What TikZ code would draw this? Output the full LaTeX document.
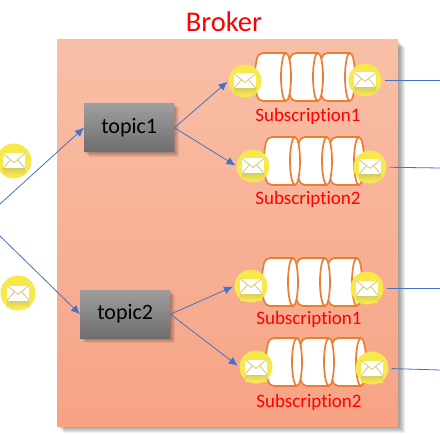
\documentclass[tikz,border=0pt]{standalone}
\usepackage{fontspec}
\setmainfont{Carlito}[Ligatures=NoCommon]
\usetikzlibrary{arrows.meta}
\definecolor{linkblue}{HTML}{4472C4}
\definecolor{cylorange}{HTML}{ED7D31}
\definecolor{msgyellow}{HTML}{F7E84C}
\definecolor{msgdark}{HTML}{D6CC62}
\definecolor{msgline}{HTML}{D8CC78}
\definecolor{brokertop}{HTML}{F8BFA7}
\definecolor{brokerbot}{HTML}{F7A384}
\tikzset{
  link/.style={draw=linkblue,line width=0.8pt},
  arrowlink/.style={link,-{Latex[length=9pt,width=8pt]}},
  topicbox/.style={minimum width=90pt,minimum height=48pt,inner sep=0pt,top color=black!38,bottom color=black!57,font=\fontsize{22}{22}\selectfont,text=black},
  sublabel/.style={text=red,font=\fontsize{19}{20}\selectfont,inner sep=0pt},
  msgdot/.style={circle,minimum size=#1,inner sep=0pt,fill=msgyellow},
  msgdot/.default=33pt
}
% soft shadow: #1 steps, #2 x0, #3 y0, #4 x1, #5 y1
\newcommand{\softshadow}[5][7]{%
  \foreach \k in {0,1,...,#1}{
    \fill[black,opacity=0.065] ({#2+\k},{#3+\k}) rectangle ({#4+\k},{#5+\k});
  }}
% one cylinder segment: left x, right x, top y, bottom y
\newcommand{\cylseg}[4]{%
  \pgfmathsetmacro{\midy}{(#3+#4)/2}
  \pgfmathsetmacro{\rady}{(#4-#3)/2}
  \draw[cylorange,line width=1.7pt,fill=white,rounded corners=5pt]
    (#2-5,#3) -- (#1+3,#3) .. controls (#1+1,#3+10) and (#1,\midy-8) .. (#1,\midy)
    .. controls (#1,\midy+8) and (#1+1,#4-10) .. (#1+3,#4) -- (#2-5,#4);
  \draw[cylorange,line width=1.7pt,fill=white] (#2-5,\midy) ellipse [x radius=5,y radius=\rady];
}
\newcommand{\cylqueue}[3]{% left x, top y, bottom y
  \cylseg{#1+64.5}{#1+100}{#2}{#3}
  \cylseg{#1+33}{#1+68}{#2}{#3}
  \cylseg{#1}{#1+36}{#2}{#3}
}
% envelope glyph and lower shade, centred on a named circle
\newcommand{\envelope}[1]{% node name
  \begin{scope}[shift={(#1.center)}]
    \fill[top color=msgdark,bottom color=msgyellow] (-11,7) rectangle (11,14);
    \fill[white] (-11,-7.5) rectangle (11,7.5);
    \draw[msgline,line width=0.9pt] (-11,-7.5) -- (0,1.5) -- (11,-7.5);
    \draw[msgline,line width=0.9pt] (-11,7.5) -- (-3.5,-1.5) (11,7.5) -- (3.5,-1.5);
  \end{scope}
}
\begin{document}
\begin{tikzpicture}[x=1pt,y=-1pt]
\useasboundingbox (0,0) rectangle (440,436);
\fill[white] (0,0) rectangle (440,436);
% broker
\softshadow{57}{40}{398}{426}
\fill[top color=brokertop,bottom color=brokerbot] (57,40) rectangle (398,426);
\node[text=red,font=\fontsize{28.5}{29}\selectfont,inner sep=0pt] (broker) at (224,22) {Broker};
% topics
\softshadow[5]{84}{103}{174}{152}
\softshadow[5]{80}{290}{170}{338}
\node[topicbox,anchor=north west] (topic1) at (84,103.5) {topic1};
\node[topicbox,anchor=north west] (topic2) at (80,290) {topic2};
% queues
\cylqueue{255}{53}{101}
\cylqueue{264}{137}{185}
\cylqueue{262}{258}{306}
\cylqueue{266}{338}{386}
\node[sublabel] (s1) at (308,116) {Subscription1};
\node[sublabel] (s2) at (308,199) {Subscription2};
\node[sublabel] (s3) at (309,319) {Subscription1};
\node[sublabel] (s4) at (309,402) {Subscription2};
% messages
\node[msgdot=33pt] (a1) at (245,81) {};
\node[msgdot=33pt] (b1) at (365,80) {};
\node[msgdot=33pt] (a2) at (253,166) {};
\node[msgdot=33pt] (b2) at (370,167) {};
\node[msgdot=33pt] (a3) at (251,286) {};
\node[msgdot=33pt] (b3) at (367,288) {};
\node[msgdot=33pt] (a4) at (256,367) {};
\node[msgdot=33pt] (b4) at (372,368) {};
\node[msgdot=35pt] (m1) at (14,161) {};
\node[msgdot=35pt] (m2) at (18,293) {};
\foreach \n in {a1,b1,a2,b2,a3,b3,a4,b4,m1,m2}{\envelope{\n}}
% free ends
\coordinate (in1) at (0,204);
\coordinate (in2) at (0,236);
\coordinate (o1) at (440,80);
\coordinate (o2) at (440,168);
\coordinate (o3) at (440,288);
\coordinate (o4) at (440,370);
% connectors
\draw[arrowlink] (in1) -- (topic1.west);
\draw[arrowlink] (in2) -- (topic2.west);
\draw[arrowlink,shorten >=1pt] (topic1.east) -- (a1.west);
\draw[arrowlink,shorten >=1pt] (topic1.east) -- (a2.west);
\draw[arrowlink,shorten >=1.5pt] (topic2.east) -- (a3.west);
\draw[arrowlink,shorten >=2pt] (topic2.east) -- (a4.west);
\draw[link,shorten <=3pt] (b1) -- (o1);
\draw[link,shorten <=3pt] (b2) -- (o2);
\draw[link,shorten <=3pt] (b3) -- (o3);
\draw[link,shorten <=3pt] (b4) -- (o4);
\end{tikzpicture}
\end{document}
